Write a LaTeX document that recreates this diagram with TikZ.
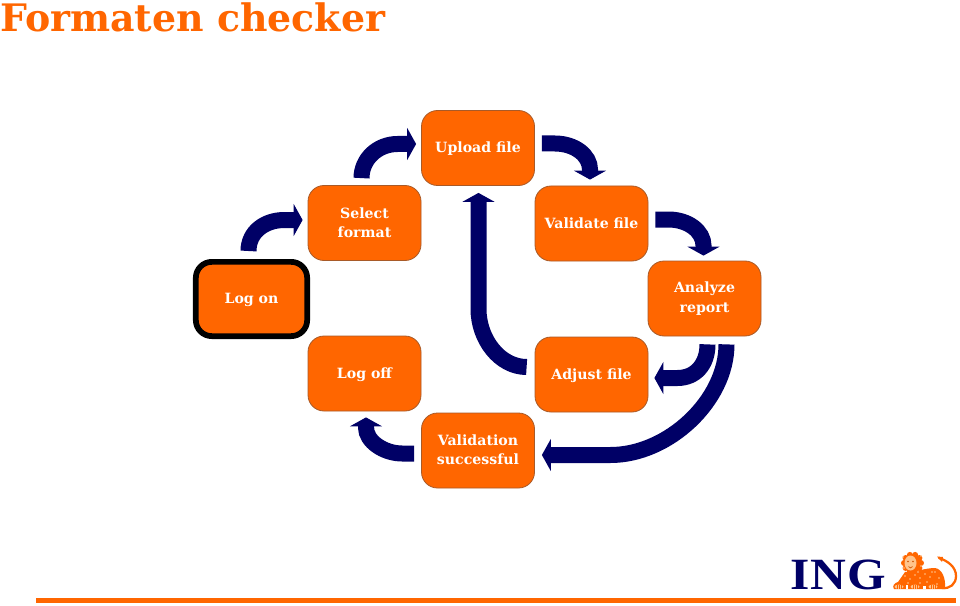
\documentclass[tikz,border=0pt]{standalone}
\usepackage{fontspec}
\setmainfont{DejaVu Serif}
\newfontfamily\logofont{Liberation Serif}
\usetikzlibrary{arrows.meta,calc}
\definecolor{ingorange}{HTML}{FF6600}
\definecolor{ingnavy}{HTML}{000066}
\definecolor{boxedge}{HTML}{A85A28}
\definecolor{lioncream}{HTML}{FFC48C}
% nudges a label without changing the size the node sees
\newcommand{\nudged}[2]{\raisebox{#1}[\height][\depth]{#2}}
\tikzset{
  x=0.75pt,y=-0.75pt,
  stepbox/.style={draw=boxedge,line width=0.6pt,fill=ingorange,rounded corners=12pt,
    minimum width=84.75pt,minimum height=56.25pt,inner sep=0pt,align=center,
    text=white,font=\fontsize{10.6}{14.4}\selectfont\bfseries},
  startbox/.style={stepbox,draw=black,line width=4.3pt,minimum width=83.5pt,minimum height=55.7pt},
  fat/.style={draw=ingnavy,line width=12pt,
    -{Triangle[length=6.75pt,width=24pt,fill=ingnavy]}},
}
\begin{document}
\begin{tikzpicture}
\useasboundingbox (0,0) rectangle (960,606);
\fill[white] (0,0) rectangle (960,606);

% heading
\node[anchor=base west,inner sep=0pt,text=ingorange,font=\fontsize{28.4}{29}\selectfont\bfseries] (title) at (0,32) {Formaten checker};

% process steps
\node[stepbox] (upload) at (478,148) {\nudged{-0.75pt}{Upload file}};
\node[stepbox] (select) at (364.5,223) {Select\\format};
\node[stepbox] (validate) at (591.5,223.5) {Validate file};
\node[startbox] (logon) at (251.5,299) {\nudged{-0.75pt}{Log on}};
\node[stepbox] (analyze) at (704.5,298.5) {Analyze\\report};
\node[stepbox] (logoff) at (364.5,373.5) {\nudged{-0.75pt}{Log off}};
\node[stepbox] (adjust) at (591.5,374.5) {\nudged{-0.75pt}{Adjust file}};
\node[stepbox] (validation) at (478,450.5) {\nudged{-0.75pt}{\begin{tabular}{@{}c@{}}Validation\\successful\end{tabular}}};

% connector end points, set slightly off the boxes
\coordinate (a1) at ([shift={(-3,-8)}]logon.north);
\coordinate (b1) at ([shift={(-5,-3)}]select.west);
\coordinate (a2) at ([shift={(-3,-7)}]select.north);
\coordinate (b2) at ([shift={(-5,-4)}]upload.west);
\coordinate (a3) at ([shift={(7,-4.5)}]upload.east);
\coordinate (b3) at ([shift={(-1.5,-6)}]validate.north);
\coordinate (a4) at ([shift={(7,-4)}]validate.east);
\coordinate (b4) at ([shift={(-1,-5)}]analyze.north);
\coordinate (a5) at ([shift={(3,8)}]analyze.south);
\coordinate (b5) at ([shift={(6,3.5)}]adjust.east);
\coordinate (a6) at ([shift={(22,8)}]analyze.south);
\coordinate (b6) at ([shift={(7,4.5)}]validation.east);
\coordinate (a7) at ([shift={(-8,-7.5)}]adjust.west);
\coordinate (b7) at ([shift={(0.5,7)}]upload.south);
\coordinate (a8) at ([shift={(-7,3)}]validation.west);
\coordinate (b8) at ([shift={(1.5,6)}]logoff.south);

% curved block arrows
\draw[fat] (a1) .. controls +(0,-19) and +(-20,0) .. ($(a1|-b1)+(36,0)$) -- (b1);
\draw[fat] (a2) .. controls +(0,-19) and +(-20,0) .. ($(a2|-b2)+(36,0)$) -- (b2);
\draw[fat] (a3) -- ++(13,0) .. controls +(20,0) and +(0,-14) .. ($(a3-|b3)+(0,26)$) -- (b3);
\draw[fat] (a4) -- ++(13,0) .. controls +(20,0) and +(0,-14) .. ($(a4-|b4)+(0,26)$) -- (b4);
\draw[fat] (a5) .. controls +(0,20) and +(18,0) .. ($(a5|-b5)+(-30,0)$) -- (b5);
\draw[fat] (a6) .. controls +(0,56) and +(58,0) .. ($(a6|-b6)+(-116,0)$) -- (b6);
\draw[fat] (a7) .. controls +(-27,0) and +(0,30) .. ($(a7-|b7)+(0,-58)$) -- (b7);
\draw[fat] (a8) -- ++(-12,0) .. controls +(-18,0) and +(0,14) .. ($(a8-|b8)+(0,-26)$) -- (b8);

% footer rule
\fill[ingorange] (36,598) rectangle (955.5,603);

% wordmark
\node[anchor=base west,inner sep=0pt,text=ingnavy,font=\fontsize{33.5}{34}\logofont\bfseries] (wordmark) at (790,589.5) {\addfontfeature{FakeStretch=1.11,LetterSpace=2}ING};

% lion emblem: tail, body, mane, face and paws
\draw[ingorange,line width=1.7pt,line cap=round] (942,588) .. controls (950,589) and (956,584) .. (956,576)
  .. controls (956,567) and (948,561) .. (939,558);
\fill[ingorange] (937,556.5) -- (943,557) -- (942,562) -- cycle;
\fill[ingorange] (905,572) .. controls (915,572) and (926,568) .. (935,568)
  .. controls (942,569) and (946,578) .. (945,589) -- (894,589)
  .. controls (892,586) and (894,583) .. (898,582) -- cycle;
\foreach \ang in {0,36,...,324}
  \fill[ingorange] ($(912.5,563)+(\ang:8.5)$) circle (3);
\fill[ingorange] (912.5,563) circle (9);
\fill[lioncream] (910.5,563) ellipse (6 and 7.5);
\fill[ingorange!80!black] (908,561.5) circle (0.8);
\fill[ingorange!80!black] (913,561.5) circle (0.8);
\draw[ingorange!80!black,line width=0.5pt] (908.5,566.5) -- (910.5,568) -- (912.5,566.5);
% paws and toes
\foreach \pawx in {899,915,933}
  \fill[lioncream] (\pawx,586.8) ellipse (4.5 and 2.2);
\foreach \pawx in {897,899,901,913,915,917,931,933,935}
  \draw[ingorange,line width=0.4pt] (\pawx,585) -- (\pawx,589);
\fill[white] (905.5,585) rectangle (907.5,589);
\fill[white] (923,586) rectangle (926,589);
% coat markings
\foreach \px/\py in {905/576,910/579,915/575,920/578,925/574,930/577,935/572,939/578,927/582,920/583,908/583,937/584,918/572,932/572,903/557,921/556,921/566,904/568}
  \fill[lioncream] (\px,\py) circle (0.8);
\end{tikzpicture}
\end{document}
